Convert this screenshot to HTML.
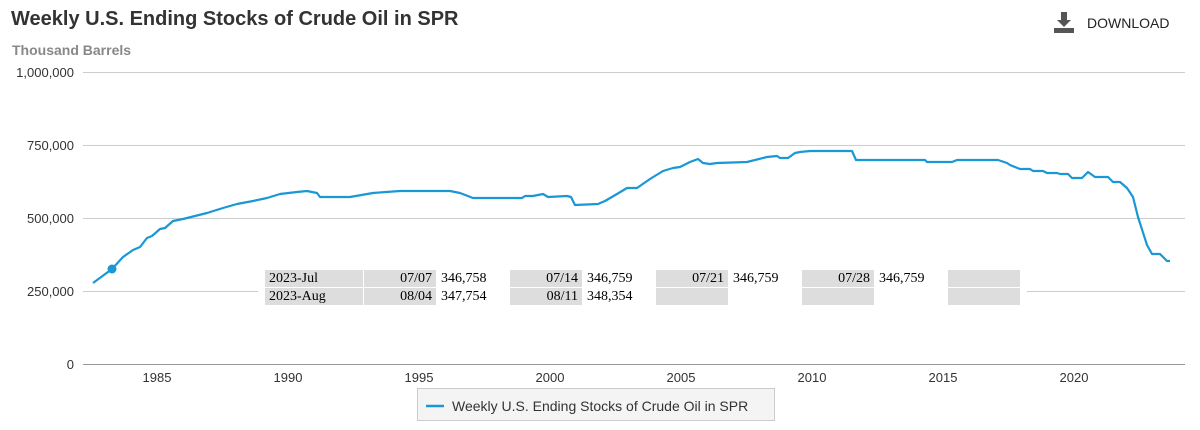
<!DOCTYPE html>
<html><head><meta charset="utf-8"><style>
body{margin:0;width:1200px;height:430px;background:#fff;font-family:"Liberation Sans",Arial,sans-serif;position:relative;overflow:hidden}
.t{position:absolute;left:11px;top:8px;font-size:20px;font-weight:bold;color:#333}
.u{position:absolute;left:12px;top:42px;font-size:14px;font-weight:bold;color:#888}
.dl{position:absolute;left:1087px;top:15px;font-size:14px;color:#222}
.tbl{position:absolute;left:258px;top:269px;border-collapse:separate;border-spacing:1px;font-family:"Liberation Serif",serif;font-size:14px;background:#fff;padding:0 6px}
.tbl td{height:17px;padding:0 4px;line-height:17px}
.g{background:#ddd}
</style></head><body>
<div class="t">Weekly U.S. Ending Stocks of Crude Oil in SPR</div>
<div class="u">Thousand Barrels</div>
<svg style="position:absolute;left:1054px;top:12px" width="20" height="22"><rect x="7" y="0" width="6" height="9" fill="#555"/><polygon points="3,8 17,8 10,15" fill="#555"/><rect x="0" y="16" width="20" height="5" fill="#555"/></svg>
<div class="dl">DOWNLOAD</div>
<svg width="1200" height="430" style="position:absolute;left:0;top:0">
<g stroke="#ccc" stroke-width="1">
<line x1="83" y1="72.5" x2="1185" y2="72.5"/><line x1="83" y1="145.5" x2="1185" y2="145.5"/><line x1="83" y1="218.5" x2="1185" y2="218.5"/><line x1="83" y1="291.5" x2="1185" y2="291.5"/>
</g>
<line x1="83" y1="364.5" x2="1185" y2="364.5" stroke="#999"/>
<g font-size="13" fill="#333" text-anchor="end">
<text x="74" y="77">1,000,000</text><text x="74" y="150">750,000</text><text x="74" y="223">500,000</text><text x="74" y="296">250,000</text><text x="74" y="369">0</text>
</g>
<g font-size="13" fill="#333" text-anchor="middle">
<text x="157" y="382">1985</text><text x="288" y="382">1990</text><text x="419" y="382">1995</text><text x="550" y="382">2000</text><text x="681" y="382">2005</text><text x="812" y="382">2010</text><text x="943" y="382">2015</text><text x="1074" y="382">2020</text>
</g>
<polyline fill="none" stroke="#1a97d5" stroke-width="2.2" stroke-linejoin="round" points="93,283 112,269 123,257 133,250 140,247 147,238 152,236 160,229 165,228 173,221 183,219 207,213 223,208 237,204 253,201 267,198 280,194 297,192 307,191 317,193 320,197 350,197 373,193 400,191 450,191 460,193 473,198 522,198 525,196 533,196 543,194 548,197 567,196 571,197 575,205 598,204 605,201 617,194 627,188 637,188 650,179 663,171 673,168 680,167 690,162 698,159 703,163 710,164 717,163 747,162 767,157 777,156 780,158 788,158 795,153 800,152 810,151 852,151 856,160 925,160 927,162 952,162 957,160 998,160 1007,163 1010,165 1020,169 1030,169 1033,171 1043,171 1047,173 1057,173 1060,174 1068,174 1072,178 1082,178 1088,172 1095,177 1108,177 1113,182 1120,182 1127,188 1133,197 1138,217 1147,245 1152,254 1160,254 1167,261 1170,261"/>
<circle cx="112" cy="269" r="4.5" fill="#1a97d5"/>
<rect x="417.5" y="388.5" width="357" height="32" fill="#f4f4f4" stroke="#ccc"/>
<line x1="426" y1="406" x2="444" y2="406" stroke="#1a97d5" stroke-width="2.5"/>
<text x="452" y="411" font-size="14" fill="#333">Weekly U.S. Ending Stocks of Crude Oil in SPR</text>
</svg>
<table class="tbl">
<tr><td class="g" style="width:90px">2023-Jul</td><td class="g" style="width:64px;text-align:right">07/07</td><td style="width:64px">346,758</td><td class="g" style="width:64px;text-align:right">07/14</td><td style="width:64px">346,759</td><td class="g" style="width:64px;text-align:right">07/21</td><td style="width:64px">346,759</td><td class="g" style="width:64px;text-align:right">07/28</td><td style="width:64px">346,759</td><td class="g" style="width:64px"></td></tr>
<tr><td class="g">2023-Aug</td><td class="g" style="text-align:right">08/04</td><td>347,754</td><td class="g" style="text-align:right">08/11</td><td>348,354</td><td class="g"></td><td></td><td class="g"></td><td></td><td class="g"></td></tr>
</table>
</body></html>
